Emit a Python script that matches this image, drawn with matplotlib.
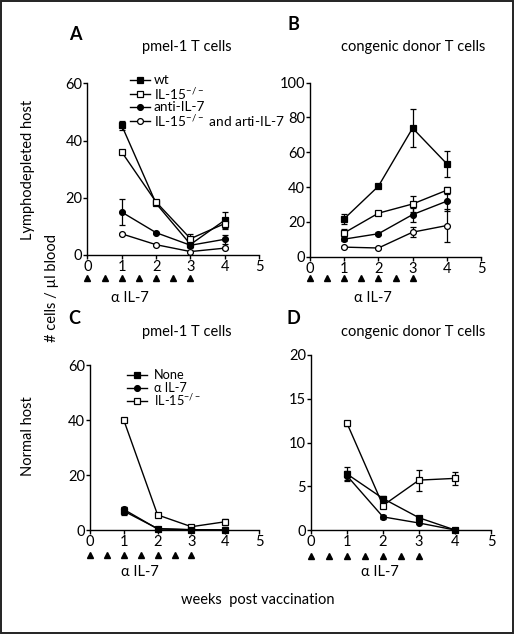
import numpy as np
import matplotlib
matplotlib.use("Agg")
import matplotlib.pyplot as plt
import matplotlib.transforms as mtrans
from matplotlib.patches import Rectangle

plt.rcParams['font.family'] = ['Lato', 'DejaVu Sans']
plt.rcParams['mathtext.fontset'] = 'custom'
plt.rcParams['mathtext.rm'] = 'Lato'

# =========================================================
# DATA
# =========================================================

weeks = [1, 2, 3, 4]
vacc_weeks = [0, 0.5, 1, 1.5, 2, 2.5, 3]

SUP = r"$^{\mathregular{-/-}}$"

# A : pmel-1, lymphodepleted host
a_wt = [45.3, 18.0, 3.7, 12.2]
a_wt_err = [1.5, 0.5, 1.0, 3.0]
a_il15 = [36.0, 18.5, 5.7, 11.0]
a_il15_err = [0.5, 0.5, 1.5, 1.5]
a_anti = [15.0, 7.8, 3.4, 5.5]
a_anti_err = [4.5, 0.4, 0.8, 1.5]
a_both = [7.4, 3.6, 1.2, 2.4]
a_both_err = [0.3, 0.3, 0.3, 0.3]
a_labels = ["wt", "IL-15" + SUP, "anti-IL-7", "IL-15" + SUP + " and arti-IL-7"]

# B : congenic donor, lymphodepleted host
b_wt = [21.8, 40.5, 73.9, 53.4]
b_wt_err = [3.0, 0.8, 11.0, 7.5]
b_il15 = [13.7, 25.0, 30.3, 38.2]
b_il15_err = [2.0, 1.0, 4.5, 2.0]
b_anti = [10.1, 13.2, 24.2, 31.9]
b_anti_err = [1.0, 0.8, 4.0, 5.5]
b_both = [5.5, 5.0, 14.1, 17.9]
b_both_err = [0.5, 0.5, 3.0, 9.5]

# C : pmel-1, normal host
c_none = [6.9, 0.5, 0.1, 0.0]
c_none_err = [1.5, 0.2, 0.1, 0.0]
c_anti = [7.5, 0.4, 0.1, 0.0]
c_anti_err = [1.0, 0.2, 0.1, 0.0]
c_il15 = [40.0, 5.5, 1.2, 3.0]
c_il15_err = [0.3, 0.3, 0.3, 1.0]
c_labels = ["None", "\u03b1 IL-7", "IL-15" + SUP]

# D : congenic donor, normal host
d_none = [6.4, 3.6, 1.4, 0.0]
d_none_err = [0.8, 0.3, 0.1, 0.0]
d_anti = [6.2, 1.5, 0.8, 0.0]
d_anti_err = [0.5, 0.2, 0.0, 0.0]
d_il15 = [12.2, 2.8, 5.7, 5.9]
d_il15_err = [0.3, 0.3, 1.2, 0.7]

# =========================================================
# FIGURE
# =========================================================

W, H = 515, 635
FS = 10.5
fig = plt.figure(figsize=(W / 100, H / 100), dpi=100)
fig.patch.set_facecolor("white")

fig.patches.append(Rectangle((1 / W, 2 / H), 512 / W, 632 / H, transform=fig.transFigure,
                             fill=False, edgecolor="#222222", linewidth=1.4))

# overlay in pixel units, used for the hand-placed legends
over = fig.add_axes([0, 0, 1, 1], zorder=5)
over.set_xlim(0, W)
over.set_ylim(H, 0)
over.axis("off")
over.patch.set_alpha(0)


def make_ax(x0, x5, y0, ytop, ymax, ystep):
    ax = fig.add_axes([x0 / W, 1 - y0 / H, (x5 - x0) / W, (y0 - ytop) / H])
    ax.set_xlim(0, 5)
    ax.set_ylim(0, ymax)
    ax.set_xticks(range(6))
    ax.set_yticks(np.arange(0, ymax + 0.1, ystep))
    for s in ["top", "right"]:
        ax.spines[s].set_visible(False)
    for s in ["left", "bottom"]:
        ax.spines[s].set_linewidth(1.0)
    ax.tick_params(direction="out", length=3, width=1.0, labelsize=FS, pad=0.5)
    ax.patch.set_alpha(0)
    return ax


def style(marker, fill):
    return dict(color="black", marker=marker, ms=5 if marker == "s" else 4.2,
                mfc="black" if fill else "white", mec="black", mew=0.9)


def series(ax, y, err, marker, fill):
    return ax.errorbar(weeks, y, yerr=err, lw=1.0, capsize=2.5, elinewidth=0.9,
                       capthick=0.9, clip_on=False, **style(marker, fill))


def triangles(ax, below_px, text_below_px, text_x, height_px):
    tr = mtrans.blended_transform_factory(ax.transData, ax.transAxes)
    ax.plot(vacc_weeks, [-below_px / height_px] * len(vacc_weeks), "^", color="black",
            ms=4.6, transform=tr, clip_on=False)
    ax.text(text_x, -text_below_px / height_px, "\u03b1 IL-7", transform=tr,
            ha="center", va="center", fontsize=FS)


def legend(rows_y, x1, x2, xt, labels, styles, fs):
    for y, lab, st in zip(rows_y, labels, styles):
        over.plot([x1, x2], [y, y], color="black", lw=1.0)
        over.plot([(x1 + x2) / 2], [y], linestyle="none", **st)
        over.text(xt, y, lab, fontsize=fs, ha="left", va="center")


# --- A
axA = make_ax(87.3, 259.3, 255, 83.3, 60, 20)
series(axA, a_wt, a_wt_err, "s", True)
series(axA, a_il15, a_il15_err, "s", False)
series(axA, a_anti, a_anti_err, "o", True)
series(axA, a_both, a_both_err, "o", False)
triangles(axA, 23.5, 43, 1.23, 171.7)
legend([80, 93.5, 107, 121], 130, 150, 154, a_labels,
       [style("s", True), style("s", False), style("o", True), style("o", False)], 9.8)

# --- B
axB = make_ax(310, 481, 256.7, 82.7, 100, 20)
series(axB, b_wt, b_wt_err, "s", True)
series(axB, b_il15, b_il15_err, "s", False)
series(axB, b_anti, b_anti_err, "o", True)
series(axB, b_both, b_both_err, "o", False)
triangles(axB, 21.5, 41, 1.83, 174)

# --- C
axC = make_ax(90, 259, 530, 365.3, 60, 20)
series(axC, c_il15, c_il15_err, "s", False)
series(axC, c_none, c_none_err, "s", True)
series(axC, c_anti, c_anti_err, "o", True)
triangles(axC, 25, 42, 1.49, 164.7)
legend([375, 387.5, 400.5], 127, 147, 154, c_labels,
       [style("s", True), style("o", True), style("s", False)], 9.2)

# --- D
axD = make_ax(311, 491, 530, 355, 20, 5)
series(axD, d_il15, d_il15_err, "s", False)
series(axD, d_none, d_none_err, "s", True)
series(axD, d_anti, d_anti_err, "o", True)
triangles(axD, 25.5, 42.5, 1.92, 175)

# --- texts
def ftext(x, y, s, **kw):
    fig.text(x / W, 1 - y / H, s, **kw)

ftext(75, 34, "A", fontsize=13, fontweight="bold", ha="center", va="center")
ftext(293, 25, "B", fontsize=13, fontweight="bold", ha="center", va="center")
ftext(74, 318, "C", fontsize=13, fontweight="bold", ha="center", va="center")
ftext(293, 318, "D", fontsize=13, fontweight="bold", ha="center", va="center")

ftext(187, 47, "pmel-1 T cells", fontsize=FS, ha="center", va="center")
ftext(413, 47, "congenic donor T cells", fontsize=FS, ha="center", va="center")
ftext(187, 332, "pmel-1 T cells", fontsize=FS, ha="center", va="center")
ftext(413, 332, "congenic donor T cells", fontsize=FS, ha="center", va="center")

ftext(28, 170, "Lymphodepleted host", fontsize=FS, rotation=90, ha="center", va="center")
ftext(52, 288, "# cells / \u00b5l blood", fontsize=FS, rotation=90, ha="center", va="center")
ftext(28, 436, "Normal host", fontsize=FS, rotation=90, ha="center", va="center")
ftext(258, 600, "weeks  post vaccination", fontsize=FS, ha="center", va="center")

fig.savefig("out.png", dpi=100, facecolor="white")
